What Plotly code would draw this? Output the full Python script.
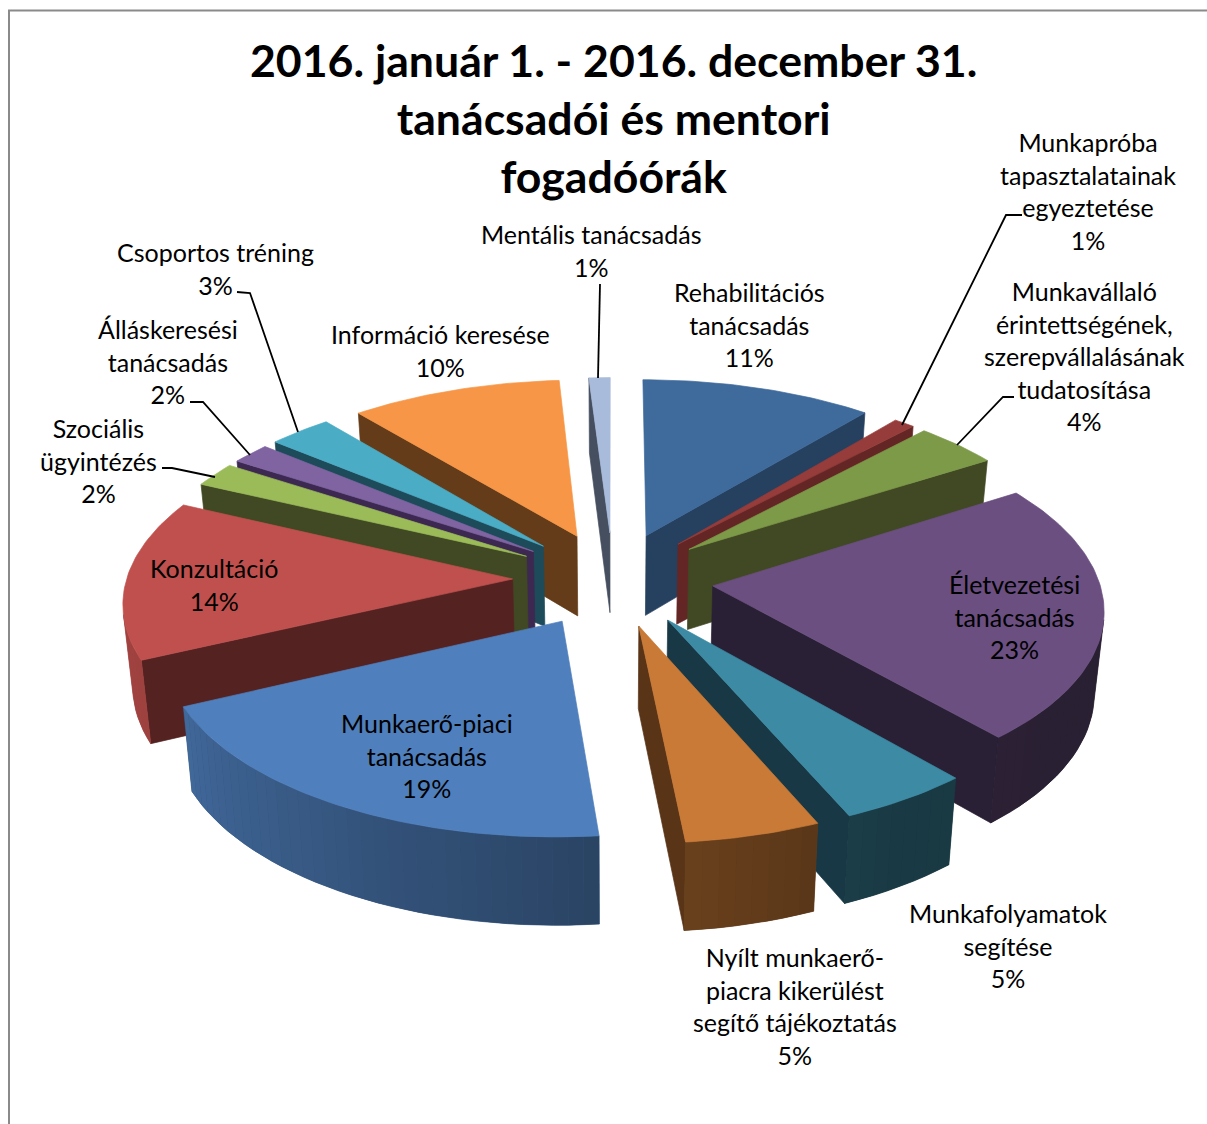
import numpy as np
import plotly.graph_objects as go

# ---- data ----
categories = ["Rehabilitációs<br>tanácsadás", "Munkapróba<br>tapasztalatainak<br>egyeztetése",
              "Munkavállaló<br>érintettségének,<br>szerepvállalásának<br>tudatosítása",
              "Életvezetési<br>tanácsadás", "Munkafolyamatok<br>segítése",
              "Nyílt munkaerő-<br>piacra kikerülést<br>segítő tájékoztatás",
              "Munkaerő-piaci<br>tanácsadás", "Konzultáció", "Szociális<br>ügyintézés",
              "Álláskeresési<br>tanácsadás", "Csoportos tréning", "Információ keresése",
              "Mentális tanácsadás"]
values = [11, 1, 4, 22.65, 4.85, 4.95, 19.55, 14, 2.15, 1.85, 3, 10, 1]
percent_labels = ["11%", "1%", "4%", "23%", "5%", "5%", "19%", "14%", "2%", "2%", "3%", "10%", "1%"]

# ---- style ----
top_colors = ["#3f6a9c", "#963c3a", "#7d9a49", "#6a4f80", "#3c8aa3", "#c97a36", "#4f7fbc",
              "#c0504d", "#9bbb59", "#8064a2", "#4bacc6", "#f79646", "#a9bbdb"]
wall_colors = ["#264060", "#632625", "#404923", "#292035", "#173844", "#593417", "#264060",
               "#552222", "#404923", "#3c2850", "#1e4b5a", "#643c19", "#464f60"]
label_pos = [(749, 324.5), (1088, 190.5), (1084, 355.5), (1014, 616.5), (1008, 945.5), (795, 1005.5), (427, 755.5),
             (214, 584.5), (98, 460.5), (168, 361.5), (215, 268.5), (440, 350.5), (591, 250.5)]
leaders = [[(1022, 215), (1006, 215), (902, 425)], [(1014, 397), (1003, 397), (957, 445)],
           [(600, 284), (598, 378)], [(237, 292), (250, 293), (298, 432)],
           [(190, 402), (203, 402), (250, 455)], [(162, 468), (172, 468), (215, 477)]]
FONT = "Lato, Carlito, Calibri, sans-serif"

# ---- projection parameters ----
CX, CY, TX, TY, K, EXPLODE, H, Q = 613, 579, 386, 182, 0.11, 0.26, 81, 0.02


def hex2rgb(h):
    return np.array([int(h[i:i + 2], 16) for i in (1, 3, 5)], float)


def css(c):
    return "rgb(%d,%d,%d)" % tuple(np.clip(np.round(c), 0, 255))


def project(X, Y, down=False):
    s = 1 / (1 - K * Y)
    if down:
        return CX + TX * X * s * (1 - Q), CY + TY * Y * s + H * s ** 0.6
    return CX + TX * X * s, CY + TY * Y * s


def pt(theta, r, ex, ey, down=False):
    return project(ex + r * np.sin(theta), ey - r * np.cos(theta), down)


def area(poly):
    xs, ys = zip(*poly)
    xs, ys = np.array(xs), np.array(ys)
    return 0.5 * np.sum(xs * np.roll(ys, -1) - np.roll(xs, -1) * ys)


def add_poly(fig, poly, color, lw=0.7):
    xs = [p[0] for p in poly] + [poly[0][0]]
    ys = [p[1] for p in poly] + [poly[0][1]]
    fig.add_trace(go.Scatter(x=xs, y=ys, mode="lines", fill="toself", fillcolor=color,
                             line=dict(color=color, width=lw), hoverinfo="skip", showlegend=False))


fig = go.Figure()
total = sum(values)
edges = np.concatenate([[0], np.cumsum(values)]) / total * 2 * np.pi
order = sorted(range(len(values)), key=lambda i: -np.cos((edges[i] + edges[i + 1]) / 2))

for i in order:
    a0, a1 = edges[i], edges[i + 1]
    mid = (a0 + a1) / 2
    ex, ey = EXPLODE * np.sin(mid), -EXPLODE * np.cos(mid)
    top, wall = hex2rgb(top_colors[i]), hex2rgb(wall_colors[i])
    apex_t, apex_b = project(ex, ey), project(ex, ey, True)
    # radial faces: seen when the drop falls outside the wedge
    for ang, seen in ((a0, np.sin(a0) < 0), (a1, np.sin(a1) > 0)):
        if seen:
            add_poly(fig, [apex_t, pt(ang, 1, ex, ey), pt(ang, 1, ex, ey, True), apex_b], css(wall))
    # outer rim as shaded strips over a solid base
    n = max(2, int(np.degrees(a1 - a0) / 2))
    th = np.linspace(a0, a1, n + 1)
    strips = []
    for t0, t1 in zip(th[:-1], th[1:]):
        q = [pt(t0, 1, ex, ey), pt(t1, 1, ex, ey), pt(t1, 1, ex, ey, True), pt(t0, 1, ex, ey, True)]
        if area(q) < 0:
            deg = np.degrees((t0 + t1) / 2)
            f = np.interp(deg, [130, 150, 175, 245, 270], [0.40, 0.42, 0.53, 0.82, 0.86])
            strips.append((q, css(top * f)))
    if strips:
        base = [s[0][0] for s in strips] + [strips[-1][0][1], strips[-1][0][2]] + [s[0][3] for s in strips[::-1]]
        add_poly(fig, base, strips[len(strips) // 2][1], 0.7)
        for q, c in strips:
            add_poly(fig, q, c, 0)
    # top face
    th = np.linspace(a0, a1, max(3, int(np.degrees(a1 - a0))))
    add_poly(fig, [apex_t] + [pt(t, 1, ex, ey) for t in th], css(top))

annotations = [dict(x=613, y=117.5, text="<b>2016. január 1. - 2016. december 31.<br>tanácsadói és mentori<br>fogadóórák</b>",
                    showarrow=False, font=dict(family=FONT, size=44.6, color="black"),
                    xanchor="center", yanchor="middle", align="center")]
for name, pct, (x, y) in zip(categories, percent_labels, label_pos):
    annotations.append(dict(x=x, y=y, text=name + "<br>" + pct, showarrow=False,
                            font=dict(family=FONT, size=25, color="black"),
                            xanchor="center", yanchor="middle", align="center"))

shapes = []
for pts in leaders:
    path = "M " + " L ".join(f"{x} {y}" for x, y in pts)
    shapes.append(dict(type="path", path=path, xref="x", yref="y", line=dict(color="black", width=1.8)))
shapes.append(dict(type="path", path="M 9 1124 L 9 10.5 L 1207 10.5", xref="x", yref="y",
                   line=dict(color="#8a8a8a", width=2)))

fig.update_layout(width=1207, height=1124, margin=dict(l=0, r=0, t=0, b=0), paper_bgcolor="white",
                  plot_bgcolor="white", showlegend=False, annotations=annotations, shapes=shapes,
                  xaxis=dict(range=[0, 1207], visible=False, fixedrange=True),
                  yaxis=dict(range=[1124, 0], visible=False, fixedrange=True))
fig.write_html("out.html", config=dict(displayModeBar=False),
               post_script="document.body.style.margin='0';")
